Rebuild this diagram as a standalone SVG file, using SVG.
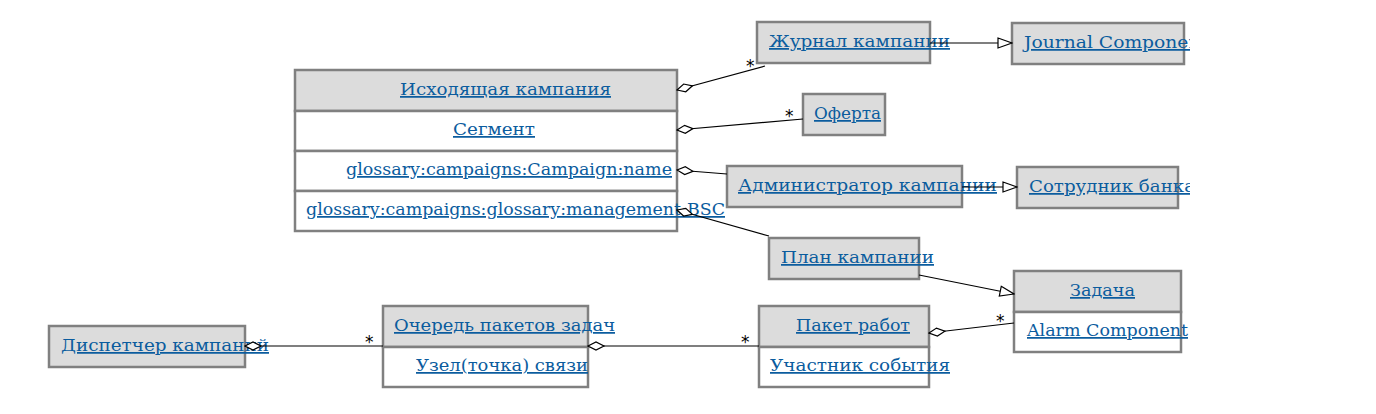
<svg xmlns="http://www.w3.org/2000/svg" width="1376" height="414" viewBox="0 0 1376 414">
<style>
.h{fill:#dcdcdc;stroke:#808080;stroke-width:2.5}
.b{fill:#ffffff;stroke:#808080;stroke-width:2.5}
.t{font-family:"DejaVu Serif","Liberation Serif",serif;font-size:17.5px;fill:#0b5c9e;text-decoration:underline}
.c{fill:none;stroke:#000;stroke-width:1.2}
.m{font-family:"DejaVu Sans",sans-serif;font-size:17px;fill:#000}
</style>
<defs>
<marker id="dia" markerUnits="userSpaceOnUse" markerWidth="20" markerHeight="12" refX="1" refY="5" orient="auto" viewBox="0 0 20 10">
<path d="M1,5 L9,1 L17,5 L9,9 Z" fill="#fff" stroke="#000" stroke-width="1.2"/>
</marker>
<marker id="tri" markerUnits="userSpaceOnUse" markerWidth="16" markerHeight="12" refX="15" refY="6" orient="auto" viewBox="0 0 16 12">
<path d="M1,1 L15,6 L1,11 Z" fill="#fff" stroke="#000" stroke-width="1.2"/>
</marker>
<clipPath id="clip"><rect x="0" y="0" width="1190" height="414"/></clipPath>
</defs>
<rect width="1376" height="414" fill="#fff"/>
<g id="nodes" clip-path="url(#clip)">
<g id="n-outbound">
<rect class="h" x="295" y="70" width="382" height="41"/>
<rect class="b" x="295" y="111" width="382" height="40"/>
<rect class="b" x="295" y="151" width="382" height="40"/>
<rect class="b" x="295" y="191" width="382" height="40"/>
<text class="t" x="400" y="95" textLength="211" lengthAdjust="spacingAndGlyphs">Исходящая кампания</text>
<text class="t" x="453" y="135" textLength="82" lengthAdjust="spacingAndGlyphs">Сегмент</text>
<text class="t" x="346" y="175" textLength="326" lengthAdjust="spacingAndGlyphs">glossary:campaigns:Campaign:name</text>
<text class="t" x="306" y="215" textLength="419" lengthAdjust="spacingAndGlyphs">glossary:campaigns:glossary:management:BSC</text>
</g>
<g id="n-journal">
<rect class="h" x="757" y="22" width="173" height="41"/>
<text class="t" x="769" y="47" textLength="181" lengthAdjust="spacingAndGlyphs">Журнал кампании</text>
</g>
<g id="n-journal-comp">
<rect class="h" x="1012" y="23" width="172" height="41"/>
<text class="t" x="1024" y="48" textLength="184" lengthAdjust="spacingAndGlyphs">Journal Component</text>
</g>
<g id="n-offer">
<rect class="h" x="803" y="94" width="82" height="41"/>
<text class="t" x="814" y="119" textLength="67" lengthAdjust="spacingAndGlyphs">Оферта</text>
</g>
<g id="n-admin">
<rect class="h" x="727" y="166" width="235" height="41"/>
<text class="t" x="738" y="191" textLength="259" lengthAdjust="spacingAndGlyphs">Администратор кампании</text>
</g>
<g id="n-employee">
<rect class="h" x="1017" y="167" width="161" height="41"/>
<text class="t" x="1029" y="192" textLength="166" lengthAdjust="spacingAndGlyphs">Сотрудник банка</text>
</g>
<g id="n-plan">
<rect class="h" x="769" y="238" width="150" height="41"/>
<text class="t" x="781" y="263" textLength="153" lengthAdjust="spacingAndGlyphs">План кампании</text>
</g>
<g id="n-task">
<rect class="h" x="1014" y="271" width="167" height="41"/>
<rect class="b" x="1014" y="312" width="167" height="40"/>
<text class="t" x="1070" y="296" textLength="65" lengthAdjust="spacingAndGlyphs">Задача</text>
<text class="t" x="1027" y="336" textLength="161" lengthAdjust="spacingAndGlyphs">Alarm Component</text>
</g>
<g id="n-workpack">
<rect class="h" x="759" y="306" width="170" height="41"/>
<rect class="b" x="759" y="347" width="170" height="40"/>
<text class="t" x="796" y="331" textLength="114" lengthAdjust="spacingAndGlyphs">Пакет работ</text>
<text class="t" x="770" y="371" textLength="180" lengthAdjust="spacingAndGlyphs">Участник события</text>
</g>
<g id="n-queue">
<rect class="h" x="383" y="306" width="205" height="41"/>
<rect class="b" x="383" y="347" width="205" height="40"/>
<text class="t" x="394" y="331" textLength="221" lengthAdjust="spacingAndGlyphs">Очередь пакетов задач</text>
<text class="t" x="416" y="371" textLength="172" lengthAdjust="spacingAndGlyphs">Узел(точка) связи</text>
</g>
<g id="n-dispatcher">
<rect class="h" x="49" y="326" width="196" height="41"/>
<text class="t" x="61" y="351" textLength="208" lengthAdjust="spacingAndGlyphs">Диспетчер кампаний</text>
</g>
</g>
<g id="connectors">
<path class="c" d="M677,90 L765,66" marker-start="url(#dia)"/>
<text class="m" x="746" y="72">*</text>
<path class="c" d="M677,130 L803,119" marker-start="url(#dia)"/>
<text class="m" x="785" y="122">*</text>
<path class="c" d="M677,170 L727,174" marker-start="url(#dia)"/>
<path class="c" d="M677,210 L769,236" marker-start="url(#dia)"/>
<path class="c" d="M930,43 L1012,43" marker-end="url(#tri)"/>
<path class="c" d="M962,187 L1017,187" marker-end="url(#tri)"/>
<path class="c" d="M919,275 L1014,294" marker-end="url(#tri)"/>
<path class="c" d="M929,333 L1014,323" marker-start="url(#dia)"/>
<text class="m" x="996" y="327">*</text>
<path class="c" d="M588,346 L759,346" marker-start="url(#dia)"/>
<text class="m" x="741" y="348">*</text>
<path class="c" d="M245,346 L383,346" marker-start="url(#dia)"/>
<text class="m" x="365" y="348">*</text>
</g>
</svg>
